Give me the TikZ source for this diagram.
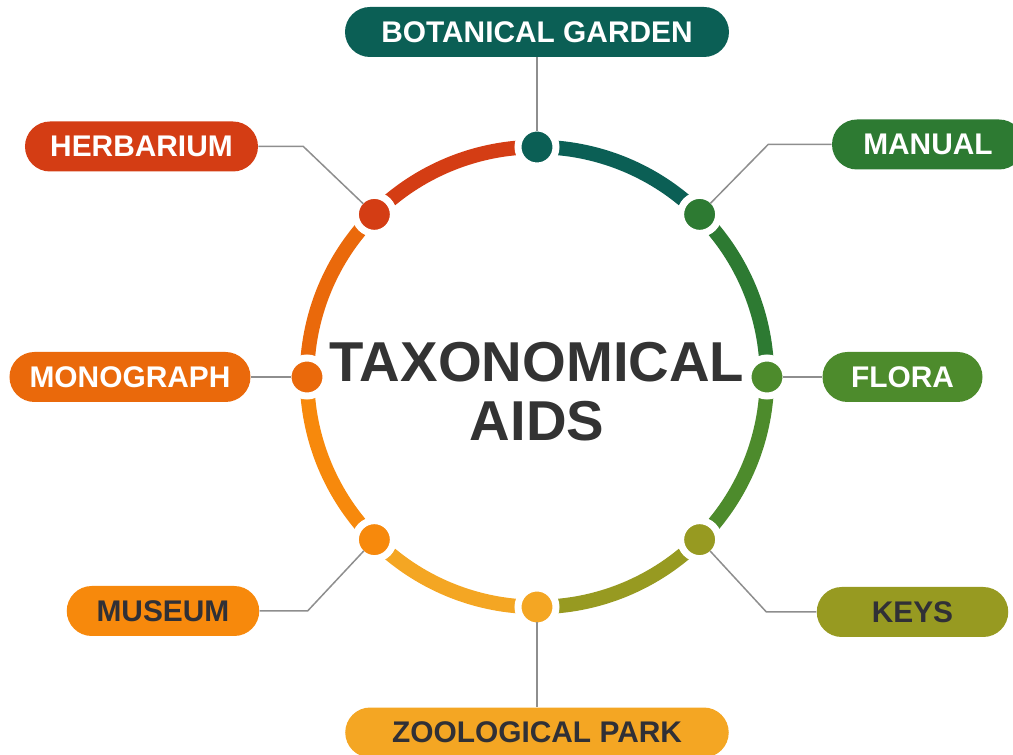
\documentclass[tikz,border=0pt]{standalone}
\usepackage{fontspec}
\setmainfont{Liberation Sans}
\usepackage{xcolor}
\usepackage{tikz}
\usetikzlibrary{positioning,calc}
\definecolor{DeepTeal}{HTML}{0B5F55}
\definecolor{BrickRed}{HTML}{D43D14}
\definecolor{BurntOrange}{HTML}{EA690B}
\definecolor{AmberOrange}{HTML}{F7890C}
\definecolor{Marigold}{HTML}{F4A623}
\definecolor{OliveGreen}{HTML}{979A21}
\definecolor{LeafGreen}{HTML}{4D8B2C}
\definecolor{ForestGreen}{HTML}{2D7A32}
\definecolor{LinkGray}{HTML}{8E8E8E}
\definecolor{InkGray}{HTML}{303036}
\definecolor{HubGray}{HTML}{333333}
\tikzset{
  PB/.style={rectangle,rounded corners=0.5cm,
             minimum height=1.0cm,inner sep=0pt,
             text centered,text=white,
             font=\bfseries\fontsize{17}{20}\selectfont},
  pT/.style={PB,fill=DeepTeal},
  pR/.style={PB,fill=BrickRed},
  pO/.style={PB,fill=BurntOrange},
  pA/.style={PB,fill=AmberOrange,text=InkGray},
  pM/.style={PB,fill=Marigold,text=InkGray},
  pK/.style={PB,fill=OliveGreen,text=InkGray},
  pL/.style={PB,fill=LeafGreen},
  pF/.style={PB,fill=ForestGreen},
  DT/.style={circle,draw=white,line width=0.14cm,
             minimum size=0.76cm,inner sep=0pt,outer sep=-0.07cm},
  ring/.style={line width=0.29cm},
  link/.style={draw=LinkGray,line width=0.03cm},
  hub/.style={align=center,text=HubGray,inner sep=0pt,
              font=\bfseries\fontsize{32}{33.2}\selectfont}
}
\begin{document}
\begin{tikzpicture}
  \useasboundingbox (-10.74,-7.56) rectangle (9.52,7.54);

  % coloured ring, one arc per aid, running clockwise
  \foreach \a/\c in {90/DeepTeal,45/ForestGreen,0/LeafGreen,-45/OliveGreen,
                     -90/Marigold,-135/AmberOrange,180/BurntOrange,135/BrickRed}
    \draw[ring,draw=\c] (\a:4.6) arc[start angle=\a,end angle=\a-45,radius=4.6];

  % dots on the ring
  \node[DT,fill=DeepTeal]    (dBot)  at (90:4.6)   {};
  \node[DT,fill=ForestGreen] (dMan)  at (45:4.6)   {};
  \node[DT,fill=LeafGreen]   (dFlo)  at (0:4.6)    {};
  \node[DT,fill=OliveGreen]  (dKeys) at (-45:4.6)  {};
  \node[DT,fill=Marigold]    (dZoo)  at (-90:4.6)  {};
  \node[DT,fill=AmberOrange] (dMus)  at (-135:4.6) {};
  \node[DT,fill=BurntOrange] (dMono) at (180:4.6)  {};
  \node[DT,fill=BrickRed]    (dHerb) at (135:4.6)  {};

  \node[hub] (hub) at (0,-0.29) {TAXONOMICAL\\AIDS};

  % labels
  \node[pT,minimum width=7.68cm] (bot)  at (0,6.9)       {BOTANICAL GARDEN};
  \node[pF,minimum width=3.84cm] (man)  at (7.82,4.65)   {MANUAL};
  \node[pL,minimum width=3.2cm]  (flo)  at (7.31,0)      {FLORA};
  \node[pK,minimum width=3.83cm] (keys) at (7.51,-4.7)   {KEYS};
  \node[pM,minimum width=7.67cm] (zoo)  at (0,-7.11)     {ZOOLOGICAL PARK};
  \node[pA,minimum width=3.85cm] (mus)  at (-7.48,-4.68) {MUSEUM};
  \node[pO,minimum width=4.82cm] (mono) at (-8.14,0)     {MONOGRAPH};
  \node[pR,minimum width=4.66cm] (herb) at (-7.91,4.61)  {HERBARIUM};

  \draw[link] (bot) -- (dBot);
  \draw[link] (man.west) -- ++(-1.27,0) -- (dMan);
  \draw[link] (flo) -- (dFlo);
  \draw[link] (keys.west) -- ++(-1.0,0) -- (dKeys);
  \draw[link] (zoo) -- (dZoo);
  \draw[link] (mus.east) -- ++(0.96,0) -- (dMus);
  \draw[link] (mono) -- (dMono);
  \draw[link] (herb.east) -- ++(0.9,0) -- (dHerb);
\end{tikzpicture}
\end{document}
